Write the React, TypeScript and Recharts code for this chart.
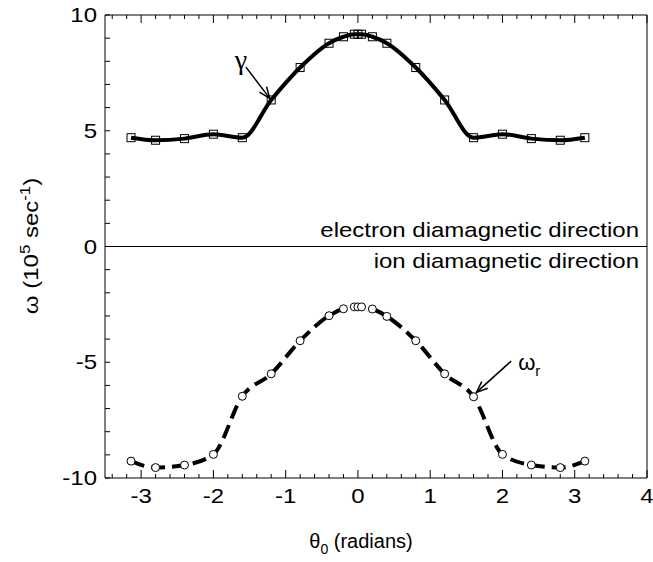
import React from 'react';
import { ComposedChart, Line, XAxis, YAxis, ReferenceLine } from 'recharts';

const theta = [-3.14, -2.8, -2.4, -2.0, -1.6, -1.2, -0.8, -0.4, -0.2, -0.05, 0, 0.05, 0.2, 0.4, 0.8, 1.2, 1.6, 2.0, 2.4, 2.8, 3.14];
const gamma = [4.7, 4.59, 4.66, 4.85, 4.7, 6.33, 7.73, 8.78, 9.06, 9.17, 9.17, 9.17, 9.06, 8.78, 7.73, 6.33, 4.7, 4.85, 4.66, 4.59, 4.7];
const omegaR = [-9.27, -9.55, -9.44, -8.98, -6.47, -5.5, -4.07, -2.99, -2.69, -2.61, -2.61, -2.61, -2.7, -3.02, -4.07, -5.5, -6.49, -8.98, -9.44, -9.55, -9.27];

const xMajor = [-3, -2, -1, 0, 1, 2, 3, 4];
const xTicks = Array.from({ length: 38 }, (_, i) => Math.round((-3.4 + i * 0.2) * 10) / 10);
const yMajor = [-10, -5, 0, 5, 10];
const yTicks = Array.from({ length: 21 }, (_, i) => i - 10);

const data = theta.map((t, i) => ({ theta: t, gamma: gamma[i], omega: omegaR[i] }));

const FONT = '"Liberation Sans", Arial, sans-serif';
const SX = 1.2; // glyphs in the original are a bit wider than Arial

const BottomTick = (p: any) => {
  const v = p.payload.value;
  const major = xMajor.includes(v);
  return (
    <g>
      <line x1={p.x} x2={p.x} y1={p.y} y2={p.y - (major ? 8 : 4)} stroke="#000" strokeWidth={1} />
      {major && (
        <text transform={`translate(${p.x},${p.y + 25}) scale(${SX},1)`} textAnchor="middle" fontSize={20} fontFamily={FONT} fill="#000">
          {v}
        </text>
      )}
    </g>
  );
};

const TopTick = (p: any) => {
  const major = xMajor.includes(p.payload.value);
  return <line x1={p.x} x2={p.x} y1={p.y} y2={p.y + (major ? 8 : 4)} stroke="#000" strokeWidth={1} />;
};

const LeftTick = (p: any) => {
  const v = p.payload.value;
  return (
    <g>
      <line x1={p.x} x2={p.x + 5} y1={p.y} y2={p.y} stroke="#000" strokeWidth={1} />
      {yMajor.includes(v) && (
        <text transform={`translate(${p.x - 8},${p.y + 7}) scale(${SX},1)`} textAnchor="end" fontSize={20} fontFamily={FONT} fill="#000">
          {v}
        </text>
      )}
    </g>
  );
};

const RightTick = (p: any) => <line x1={p.x} x2={p.x - 5} y1={p.y} y2={p.y} stroke="#000" strokeWidth={1} />;

const SquareDot = (p: any) => (
  <rect key={`sq-${p.index}`} x={p.cx - 4} y={p.cy - 4} width={8} height={8} fill="none" stroke="#000" strokeWidth={1} />
);

const CircleDot = (p: any) => (
  <circle key={`ci-${p.index}`} cx={p.cx} cy={p.cy} r={4} fill="#fff" stroke="#000" strokeWidth={1} />
);

const arrow = (label: React.ReactNode) => (p: any) => {
  const { x1, y1, x2, y2 } = p;
  const a = Math.atan2(y2 - y1, x2 - x1);
  const h = 12;
  const s = 0.38;
  return (
    <g>
      <line x1={x1} y1={y1} x2={x2} y2={y2} stroke="#000" strokeWidth={1.5} />
      <path
        d={`M${x2 - h * Math.cos(a - s)},${y2 - h * Math.sin(a - s)} L${x2},${y2} L${x2 - h * Math.cos(a + s)},${y2 - h * Math.sin(a + s)}`}
        fill="none"
        stroke="#000"
        strokeWidth={1.5}
      />
      {label}
    </g>
  );
};

const gammaArrow = (p: any) =>
  arrow(
    <text x={p.x1 - 5} y={p.y1 + 2} textAnchor="middle" fontSize={28} fontFamily='"Liberation Serif", serif' fill="#000">
      γ
    </text>
  )(p);

const omegaArrow = (p: any) =>
  arrow(
    <text x={p.x1 + 7} y={p.y1 + 9} fontSize={22} fontFamily={FONT} fill="#000">
      ω<tspan fontSize={15} dy={6}>r</tspan>
    </text>
  )(p);

export default function App() {
  return (
    <div style={{ position: 'absolute', left: 0, top: 0, width: 653, height: 562, background: '#fff' }}>
      <ComposedChart width={653} height={562} data={data} margin={{ top: 10, right: 1, bottom: 54, left: 45 }}>
        <XAxis
          xAxisId="bottom"
          dataKey="theta"
          type="number"
          domain={[-3.5, 4]}
          ticks={xTicks}
          interval={0}
          height={30}
          tickSize={0}
          tickMargin={0}
          tick={<BottomTick />}
          stroke="#000"
        />
        <XAxis
          xAxisId="top"
          orientation="top"
          dataKey="theta"
          type="number"
          domain={[-3.5, 4]}
          ticks={xTicks}
          interval={0}
          height={5}
          tickSize={0}
          tickMargin={0}
          tick={<TopTick />}
          stroke="#000"
        />
        <YAxis
          yAxisId="left"
          type="number"
          domain={[-10, 10]}
          ticks={yTicks}
          interval={0}
          width={60}
          tickSize={0}
          tickMargin={0}
          tick={<LeftTick />}
          stroke="#000"
        />
        <YAxis
          yAxisId="right"
          orientation="right"
          type="number"
          domain={[-10, 10]}
          ticks={yTicks}
          interval={0}
          width={5}
          tickSize={0}
          tickMargin={0}
          tick={<RightTick />}
          stroke="#000"
        />
        <ReferenceLine xAxisId="bottom" yAxisId="left" y={0} stroke="#000" strokeWidth={1} />
        <Line
          xAxisId="bottom"
          yAxisId="left"
          type="monotone"
          dataKey="gamma"
          stroke="#000"
          strokeWidth={4}
          dot={SquareDot}
          isAnimationActive={false}
        />
        <Line
          xAxisId="bottom"
          yAxisId="left"
          type="monotone"
          dataKey="omega"
          stroke="#000"
          strokeWidth={4}
          strokeDasharray="14 7"
          dot={CircleDot}
          isAnimationActive={false}
        />
        <ReferenceLine
          xAxisId="bottom"
          yAxisId="left"
          segment={[{ x: -1.55, y: 7.75 }, { x: -1.22, y: 6.4 }]}
          shape={gammaArrow}
        />
        <ReferenceLine
          xAxisId="bottom"
          yAxisId="left"
          segment={[{ x: 2.12, y: -4.95 }, { x: 1.64, y: -6.3 }]}
          shape={omegaArrow}
        />
        <text transform={`translate(639,237) scale(${SX},1)`} textAnchor="end" fontSize={20} fontFamily={FONT} fill="#000">
          electron diamagnetic direction
        </text>
        <text transform={`translate(639,268) scale(${SX},1)`} textAnchor="end" fontSize={20} fontFamily={FONT} fill="#000">
          ion diamagnetic direction
        </text>
        <text x={361} y={548} textAnchor="middle" fontSize={20} fontFamily={FONT} fill="#000">
          θ<tspan fontSize={14} dy={6}>0</tspan>
          <tspan dy={-6}> (radians)</tspan>
        </text>
        <text
          transform={`translate(38,246) rotate(-90) scale(${SX},1)`}
          textAnchor="middle"
          fontSize={20}
          fontFamily={FONT}
          fill="#000"
        >
          ω (10<tspan fontSize={14} dy={-8}>5</tspan>
          <tspan dy={8}> sec</tspan>
          <tspan fontSize={14} dy={-8}>-1</tspan>
          <tspan dy={8}>)</tspan>
        </text>
      </ComposedChart>
    </div>
  );
}
